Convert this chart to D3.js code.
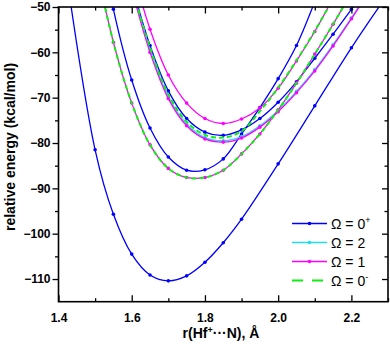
<!DOCTYPE html>
<html><head><meta charset="utf-8">
<script src="https://cdn.jsdelivr.net/npm/d3@7/dist/d3.min.js"></script>
<style>body{margin:0;background:#fff}svg{display:block}text{font-family:"Liberation Sans",Arial,sans-serif}</style>
</head><body>
<svg id="c" width="390" height="348"></svg>
<script>
// ---- data (bond length r in Å, relative energy in kcal/mol) ----
const xTicks = [1.4, 1.6, 1.8, 2.0, 2.2];
const yTicks = [-50, -60, -70, -80, -90, -100, -110];

// Ω = 0+ (three states)
const r0pA = [1.40,1.50,1.55,1.60,1.65,1.70,1.75,1.80,1.85,1.90,2.00,2.10,2.20,2.30];
const e0pA = [-30.5,-81.5,-95.7,-104.5,-109.1,-110.4,-109.3,-106.3,-102.0,-96.8,-84.6,-71.8,-59.0,-47.1];
const r0pB = [1.50,1.55,1.60,1.65,1.70,1.75,1.80,1.85,1.90,1.95,2.00,2.05,2.10];
const e0pB = [-29,-50.5,-66.1,-76.7,-83.1,-86.0,-85.9,-83.5,-78.0,-72.2,-65.8,-58.5,-48.8];
const r0pC = [1.60,1.65,1.70,1.75,1.80,1.85,1.90,1.95,2.00,2.05,2.10,2.15,2.20,2.25];
const e0pC = [-45,-58.5,-68.5,-74.6,-77.6,-78.3,-77.1,-74.6,-71.0,-66.5,-61.3,-56.0,-50.5,-45];
// Ω = 2
const r2A = [1.60,1.65,1.70,1.75,1.80,1.85,1.90,1.95,2.00,2.05,2.10,2.15,2.20,2.25];
const e2A = [-45.5,-59.5,-69.8,-75.8,-78.8,-79.5,-78.6,-76.2,-72.8,-68.6,-63.8,-58.3,-52.4,-46.3];
// Ω = 1 (three states)
const r1A = [1.60,1.65,1.70,1.75,1.80,1.85,1.90,1.95,2.00,2.05,2.10,2.15];
const e1A = [-41,-54.9,-65.0,-71.2,-74.6,-75.7,-74.7,-72.3,-67.9,-61.9,-55.4,-48.0];
const r1B = [1.60,1.65,1.70,1.75,1.80,1.85,1.90,1.95,2.00,2.05,2.10,2.15,2.20,2.25];
const e1B = [-46,-60,-70.2,-76.2,-79.1,-79.8,-78.9,-76.5,-73.1,-68.9,-64.1,-58.6,-52.6,-46.4];
const r1C = [1.50,1.55,1.60,1.65,1.70,1.75,1.80,1.85,1.90,1.95,2.00,2.05,2.10,2.15,2.20,2.25];
const e1C = [-39.8,-57.8,-71.2,-80.4,-85.6,-87.6,-87.6,-86.0,-82.4,-78.0,-72.7,-66.8,-60.4,-53.8,-46.9,-40];
// Ω = 0- (two states)
const r0mA = [1.60,1.65,1.70,1.75,1.80,1.85,1.90,1.95,2.00,2.05,2.10,2.15];
const e0mA = [-45.5,-59,-69.3,-75.3,-78.2,-78.8,-77.4,-73.0,-67.8,-61.8,-55.3,-48.2];
const r0mB = [1.50,1.55,1.60,1.65,1.70,1.75,1.80,1.85,1.90,1.95,2.00,2.05,2.10,2.15,2.20,2.25];
const e0mB = [-39.8,-57.8,-71.2,-80.4,-85.6,-87.6,-87.6,-86.0,-82.4,-78.0,-72.7,-66.8,-60.4,-53.8,-46.9,-40];

const seriesNames = ["Ω = 0", "Ω = 2", "Ω = 1", "Ω = 0"];
const seriesSup = ["+", "", "", "-"];
const seriesColors = ["#0000ff", "#22dde8", "#ff00ff", "#11ee11"];

const curves = [
  {s:0, r:r0pA, e:e0pA}, {s:0, r:r0pB, e:e0pB}, {s:0, r:r0pC, e:e0pC},
  {s:1, r:r2A, e:e2A},
  {s:2, r:r1A, e:e1A}, {s:2, r:r1B, e:e1B}, {s:2, r:r1C, e:e1C},
  {s:3, r:r0mA, e:e0mA}, {s:3, r:r0mB, e:e0mB}
];

// ---- layout ----
const L = 58.5, R = 388, T = 7, B = 301.7;
const x = d3.scaleLinear().domain([1.4, 2.3]).range([L, R]);
const y = d3.scaleLinear().domain([-115, -50]).range([B, T]);
const svg = d3.select("#c");

svg.append("defs").append("clipPath").attr("id","clip")
  .append("rect").attr("x",L).attr("y",T).attr("width",R-L).attr("height",B-T);

const plot = svg.append("g").attr("clip-path","url(#clip)");
const line = d3.line().x(d=>x(d[0])).y(d=>y(d[1])).curve(d3.curveCatmullRom.alpha(0.5));

curves.forEach(c => {
  const pts = c.r.map((r,i)=>[r, c.e[i]]);
  const col = seriesColors[c.s];
  const p = plot.append("path").datum(pts).attr("d", line)
    .attr("fill","none").attr("stroke", col);
  if (c.s === 3) {
    p.attr("stroke-width", 2).attr("stroke-dasharray","5,3");
  } else {
    p.attr("stroke-width", 1.3);
    plot.selectAll(null).data(pts).enter().append("circle")
      .attr("cx", d=>x(d[0])).attr("cy", d=>y(d[1])).attr("r", 1.8).attr("fill", col);
  }
});

// ---- axes ----
const fmt = d => d < 0 ? "\u2212" + Math.abs(d) : d.toFixed(1);
const axB = d3.axisBottom(x).tickValues(xTicks).tickSizeInner(-6.5).tickSizeOuter(0).tickFormat(d=>d.toFixed(1));
const axBm = d3.axisBottom(x).tickValues(d3.range(1.5, 2.31, 0.2)).tickSizeInner(-3.5).tickSizeOuter(0).tickFormat("");
const axT = d3.axisTop(x).tickValues(xTicks).tickSizeInner(-6.5).tickSizeOuter(0).tickFormat("");
const axTm = d3.axisTop(x).tickValues(d3.range(1.5, 2.31, 0.2)).tickSizeInner(-3.5).tickSizeOuter(0).tickFormat("");
const axL = d3.axisLeft(y).tickValues(yTicks).tickSizeInner(6).tickSizeOuter(0).tickFormat(fmt);
const axLm = d3.axisLeft(y).tickValues(d3.range(-55, -114, -10)).tickSizeInner(3.5).tickSizeOuter(0).tickFormat("");
const axR = d3.axisRight(y).tickValues(yTicks).tickSizeInner(-6).tickSizeOuter(0).tickFormat("");
const axRm = d3.axisRight(y).tickValues(d3.range(-55, -114, -10)).tickSizeInner(-3.5).tickSizeOuter(0).tickFormat("");

function styleAxis(g){
  g.select(".domain").remove();
  g.selectAll(".tick line").attr("stroke","#000").attr("stroke-width",1.3);
  g.selectAll("text").attr("font-size","12px").attr("font-weight","bold").attr("fill","#000");
}
svg.append("g").attr("transform",`translate(0,${B})`).call(axB).call(styleAxis)
  .selectAll("text").attr("dy","1.45em");
svg.append("g").attr("transform",`translate(0,${B})`).call(axBm).call(styleAxis);
svg.append("g").attr("transform",`translate(0,${T})`).call(axT).call(styleAxis);
svg.append("g").attr("transform",`translate(0,${T})`).call(axTm).call(styleAxis);
svg.append("g").attr("transform",`translate(${L},0)`).call(axL).call(styleAxis)
  .selectAll("text").attr("x",-8);
svg.append("g").attr("transform",`translate(${L},0)`).call(axLm).call(styleAxis);
svg.append("g").attr("transform",`translate(${R},0)`).call(axR).call(styleAxis);
svg.append("g").attr("transform",`translate(${R},0)`).call(axRm).call(styleAxis);

svg.append("rect").attr("x",L).attr("y",T).attr("width",R-L).attr("height",B-T)
  .attr("fill","none").attr("stroke","#000").attr("stroke-width",1.6);

// axis titles
svg.append("text").attr("transform","translate(15,147) rotate(-90)").attr("text-anchor","middle")
  .attr("font-size","14px").attr("font-weight","bold").text("relative energy (kcal/mol)");
const xt = svg.append("text").attr("x",221).attr("y",338).attr("text-anchor","middle")
  .attr("font-size","14px").attr("font-weight","bold");
xt.append("tspan").text("r(Hf");
xt.append("tspan").attr("dy","-5").attr("font-size","9px").text("+");
xt.append("tspan").attr("dy","5").text("\u00b7\u00b7\u00b7N), Å");

// legend
const lg = svg.append("g");
seriesNames.forEach((n,i) => {
  const yy = 223.5 + i*19;
  const col = seriesColors[i];
  const ln = lg.append("line").attr("x1",292).attr("x2",327).attr("y1",yy).attr("y2",yy).attr("stroke",col);
  if (i === 3) ln.attr("stroke-width",2).attr("stroke-dasharray","11,9");
  else {
    ln.attr("stroke-width",1.3);
    lg.append("circle").attr("cx",309.5).attr("cy",yy).attr("r",1.8).attr("fill",col);
  }
  const t = lg.append("text").attr("x",331).attr("y",yy+5).attr("font-size","14px");
  t.append("tspan").text(n);
  if (seriesSup[i]) t.append("tspan").attr("dy","-6").attr("font-size","9px").text(seriesSup[i]);
});
</script>
</body></html>
